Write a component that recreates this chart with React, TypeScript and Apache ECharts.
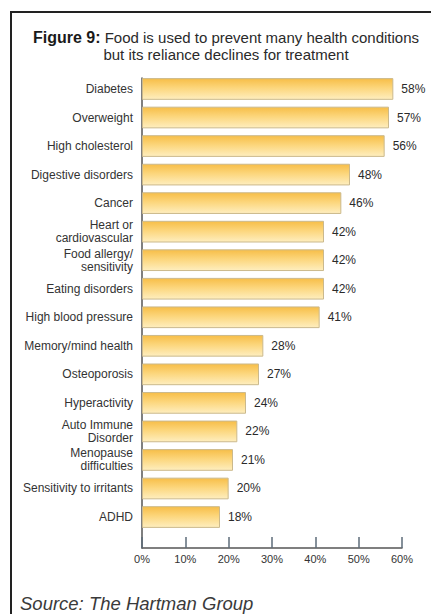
import React, { useEffect, useRef } from "react";
import * as echarts from "echarts";

const categories = [
  "Diabetes",
  "Overweight",
  "High cholesterol",
  "Digestive disorders",
  "Cancer",
  "Heart or\ncardiovascular",
  "Food allergy/\nsensitivity",
  "Eating disorders",
  "High blood pressure",
  "Memory/mind health",
  "Osteoporosis",
  "Hyperactivity",
  "Auto Immune\nDisorder",
  "Menopause\ndifficulties",
  "Sensitivity to irritants",
  "ADHD",
];
const values = [58, 57, 56, 48, 46, 42, 42, 42, 41, 28, 27, 24, 22, 21, 20, 18];
const xTicks = [0, 10, 20, 30, 40, 50, 60];
const titleBold = "Figure 9:";
const titleRest1 = " Food is used to prevent many health conditions";
const titleLine2 = "but its reliance declines for treatment";
const sourceText = "Source: The Hartman Group";

export default function App() {
  const ref = useRef<HTMLDivElement>(null);
  useEffect(() => {
    document.body.style.margin = "0";
    const chart = echarts.init(ref.current!, null, { renderer: "svg" });
    const font = "'Liberation Sans', Arial, Helvetica, sans-serif";
    chart.setOption({
      animation: false,
      backgroundColor: "#ffffff",
      textStyle: { fontFamily: font },
      title: {
        text: `{b|${titleBold}}${titleRest1}\n${titleLine2}`,
        left: 221,
        top: 24,
        textAlign: "center",
        textStyle: {
          fontSize: 15,
          fontWeight: "normal",
          color: "#2a2a2a",
          lineHeight: 17,
          fontFamily: font,
          rich: {
            b: { fontSize: 16, fontWeight: "bold", color: "#1a1a1a", fontFamily: font, lineHeight: 17 },
          },
        },
      },
      graphic: [
        {
          type: "polyline",
          shape: { points: [[11, 640], [11, 12], [450, 12]] },
          style: { stroke: "#222", lineWidth: 2, fill: null },
          silent: true,
        },
        {
          type: "text",
          left: 20,
          top: 594,
          style: {
            text: sourceText,
            fontSize: 18.5,
            fontStyle: "italic",
            fill: "#3a3a3a",
            fontFamily: font,
          },
        },
      ],
      grid: [
        { left: 142, right: 29, top: 74.7, height: 456.6, containLabel: false },
        { left: 142, right: 29, top: 78, bottom: 66, containLabel: false },
      ],
      xAxis: [
        { type: "value", gridIndex: 0, min: 0, max: 60, show: false },
        {
          type: "value",
          gridIndex: 1,
          min: 0,
          max: 60,
          interval: 10,
          data: xTicks,
          axisLine: { show: true, onZero: false, lineStyle: { color: "#555", width: 1.5 } },
          axisTick: { show: true, inside: true, length: 11, lineStyle: { color: "#5d6b78", width: 1.5 } },
          axisLabel: { formatter: "{value}%", fontSize: 11, color: "#333", margin: 5, fontFamily: font },
          splitLine: { show: false },
        },
      ],
      yAxis: [
        {
          type: "category",
          gridIndex: 0,
          inverse: true,
          data: categories,
          axisLine: { show: false },
          axisTick: { show: false },
          axisLabel: { fontSize: 12, color: "#333", margin: 9, lineHeight: 13, fontFamily: font },
        },
        {
          type: "value",
          gridIndex: 1,
          min: 0,
          max: 1,
          axisLine: { show: true, lineStyle: { color: "#555", width: 1.5 } },
          axisTick: { show: false },
          axisLabel: { show: false },
          splitLine: { show: false },
        },
      ],
      series: [
        {
          type: "bar",
          xAxisIndex: 0,
          yAxisIndex: 0,
          data: values,
          barCategoryGap: "24%",
          itemStyle: {
            color: new echarts.graphic.LinearGradient(0, 0, 0, 1, [
              { offset: 0, color: "#f7be48" },
              { offset: 0.45, color: "#fcd67c" },
              { offset: 1, color: "#feeebf" },
            ]),
            borderColor: "#cbb98c",
            borderWidth: 1,
          },
          label: {
            show: true,
            position: "right",
            distance: 8,
            formatter: "{c}%",
            fontSize: 12,
            color: "#2a2a2a",
            fontFamily: font,
          },
        },
      ],
    });
    return () => chart.dispose();
  }, []);
  return <div ref={ref} style={{ width: 431, height: 614 }} />;
}
